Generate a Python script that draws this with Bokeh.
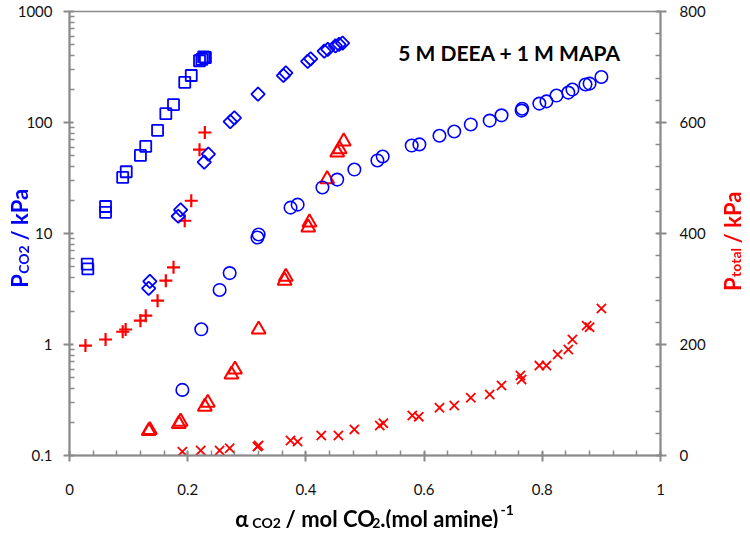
import math
from bokeh.plotting import figure
from bokeh.models import Range1d, LinearAxis, LinearScale, FixedTicker, Label
from bokeh.core.properties import value
from bokeh.embed import file_html
from bokeh.resources import INLINE

# ---------------- data ----------------
# Blue squares: P_CO2 (left axis)
alpha_sq = [0.030, 0.031, 0.061, 0.061, 0.090, 0.096, 0.120, 0.129, 0.149, 0.163,
            0.176, 0.195, 0.206, 0.220, 0.224, 0.227, 0.230]
pco2_sq = [5.3, 4.8, 17.5, 15.5, 32, 36, 50.5, 61, 85, 120,
           145, 230, 265, 360, 370, 390, 385]

# Blue diamonds: P_CO2 (left axis)
alpha_di = [0.134, 0.136, 0.184, 0.188, 0.228, 0.235, 0.272, 0.279, 0.319, 0.362,
            0.366, 0.403, 0.408, 0.431, 0.437, 0.450, 0.456, 0.462]
pco2_di = [3.2, 3.7, 14.3, 16.3, 44, 52, 102, 110, 180, 265,
           280, 355, 375, 440, 455, 490, 505, 520]

# Blue circles: P_CO2 (left axis)
alpha_ci = [0.191, 0.223, 0.254, 0.271, 0.318, 0.320, 0.374, 0.386, 0.428, 0.453,
            0.482, 0.521, 0.530, 0.579, 0.592, 0.626, 0.651, 0.679, 0.711, 0.731,
            0.765, 0.766, 0.795, 0.807, 0.824, 0.844, 0.851, 0.873, 0.880, 0.900]
pco2_ci = [0.39, 1.37, 3.1, 4.4, 9.2, 9.8, 17.1, 18.2, 26, 30.6,
           37.7, 45.5, 49.4, 62, 63.5, 76, 83, 96, 104, 116,
           128, 133, 148, 155, 175, 186, 198, 220, 224, 257]

# Red plus: P_total (right axis)
alpha_pl = [0.027, 0.061, 0.090, 0.095, 0.120, 0.129, 0.149, 0.163, 0.176, 0.195,
            0.206, 0.220, 0.229]
ptot_pl = [198, 209, 223, 227, 243, 252, 279, 315, 339, 423,
           459, 551, 582]

# Red triangles: P_total (right axis)
alpha_tr = [0.134, 0.136, 0.185, 0.188, 0.229, 0.234, 0.274, 0.280, 0.320, 0.364,
            0.366, 0.404, 0.406, 0.436, 0.453, 0.457, 0.464]
ptot_tr = [44, 46, 57, 61, 88, 95, 146, 155, 227, 315,
           322, 411, 420, 498, 546, 552, 566]

# Red x: P_total (right axis)
alpha_x = [0.191, 0.222, 0.254, 0.271, 0.318, 0.320, 0.374, 0.386, 0.426, 0.455,
           0.482, 0.525, 0.531, 0.580, 0.591, 0.626, 0.651, 0.679, 0.711, 0.731,
           0.763, 0.765, 0.795, 0.807, 0.826, 0.844, 0.851, 0.875, 0.880, 0.900]
ptot_x = [7, 9, 9, 13, 16, 18, 27, 25, 36, 36,
          47, 54, 58, 72, 70, 86, 90, 104, 110, 126,
          144, 137, 162, 162, 182, 191, 209, 234, 231, 265]

x_ticks = [0, 0.2, 0.4, 0.6, 0.8, 1]
x_tick_labels = ["0", "0.2", "0.4", "0.6", "0.8", "1"]
y_ticks = [0.1, 1, 10, 100, 1000]
y_tick_labels = ["0.1", "1", "10", "100", "1000"]
y2_ticks = [0, 200, 400, 600, 800]
y2_tick_labels = ["0", "200", "400", "600", "800"]

title_text = "5 M DEEA + 1 M MAPA"

# ---------------- layout ----------------
BLUE = "#0000FF"
RED = "#FF0000"
GRAY = "#8A8A8A"
FONT = "Lato"

W, H = 734, 520
FL, FR, FT, FB = 69, 660, 11, 455   # frame edges inside the figure

p = figure(width=W, height=H, y_axis_type="log",
           x_range=Range1d(0, 1), y_range=Range1d(0.1, 1000),
           output_backend="svg", toolbar_location=None,
           min_border_left=FL, min_border_right=W - FR,
           min_border_top=FT, min_border_bottom=H - FB)
p.extra_y_ranges = {"tot": Range1d(0, 800)}
p.extra_y_scales = {"tot": LinearScale()}
p.grid.visible = False
p.outline_line_color = GRAY
p.outline_line_width = 1.5
p.background_fill_color = "white"
p.border_fill_color = "white"

right = LinearAxis(y_range_name="tot")
p.add_layout(right, "right")

p.xaxis.ticker = FixedTicker(ticks=x_ticks,
                             minor_ticks=[round(i * 0.04, 2) for i in range(26)])
p.xaxis.major_label_overrides = dict(zip(x_ticks, x_tick_labels))
p.yaxis[0].ticker = FixedTicker(ticks=y_ticks,
                                minor_ticks=[m * d for d in [0.1, 1, 10, 100] for m in range(2, 10)])
p.yaxis[0].major_label_overrides = dict(zip(y_ticks, y_tick_labels))
right.ticker = FixedTicker(ticks=y2_ticks, minor_ticks=list(range(0, 801, 40)))
right.major_label_overrides = dict(zip(y2_ticks, y2_tick_labels))

for ax in [p.xaxis[0], p.yaxis[0], right]:
    ax.axis_line_color = GRAY
    ax.axis_line_width = 2
    ax.major_tick_line_color = GRAY
    ax.major_tick_line_width = 2
    ax.minor_tick_line_color = GRAY
    ax.minor_tick_line_width = 1.5
    ax.major_tick_in = 4
    ax.major_tick_out = 6
    ax.minor_tick_in = 5
    ax.minor_tick_out = 0
    ax.major_label_text_font = FONT
    ax.major_label_text_font_size = "15px"
    ax.major_label_text_color = "#111111"
    ax.major_label_standoff = 11
p.xaxis.major_label_standoff = 22
right.major_label_standoff = 13

# ---------------- markers ----------------
p.scatter(alpha_x, ptot_x, y_range_name="tot", marker="x", size=13,
          line_color=RED, line_width=1.8)
p.scatter(alpha_tr, ptot_tr, y_range_name="tot", marker="triangle", size=14,
          fill_color=None, line_color=RED, line_width=2)
p.scatter(alpha_pl, ptot_pl, y_range_name="tot", marker="cross", size=13,
          line_color=RED, line_width=2.2)
p.scatter(alpha_sq, pco2_sq, marker="square", size=11,
          fill_color=None, line_color=BLUE, line_width=1.8)
p.scatter(alpha_di, pco2_di, marker="square", angle=math.pi / 4, size=9.5,
          fill_color=None, line_color=BLUE, line_width=1.8)
p.scatter(alpha_ci, pco2_ci, marker="circle", size=12.5,
          fill_color=None, line_color=BLUE, line_width=1.6)

# in-plot title (inside the frame)
def px2x(px):
    return (px - 8 - FL) / (FR - FL)

def py2t(py):
    return (FB - (py - 8)) / (FB - FT) * 800

WID = {" ": 0.193, "α": 0.58, "C": 0.69, "O": 0.80, "P": 0.64, "M": 0.90, "D": 0.76,
       "E": 0.56, "A": 0.70, "a": 0.51, "e": 0.53, "i": 0.26, "k": 0.53, "l": 0.26,
       "m": 0.85, "n": 0.58, "o": 0.58, "t": 0.37, "/": 0.37, ".": 0.23, "(": 0.31,
       ")": 0.31, "-": 0.36, "+": 0.58}

def tw(s, size):
    return sum(WID.get(c, 0.58) for c in s) * size

p.add_layout(Label(x=px2x(513 - tw(title_text, 21) / 2), y=py2t(60), y_range_name="tot",
                   text=title_text, text_font=FONT, text_font_size="21px",
                   text_font_style="bold", text_color="#000000",
                   text_align="left", text_baseline="alphabetic"))

# ---------------- axis titles: transparent overlay figure ----------------
OW, OH = 742, 528   # overlay reaches the window edges so no title is cut
ov = figure(width=OW, height=OH, x_range=Range1d(0, OW), y_range=Range1d(OH, 0),
            output_backend="svg", toolbar_location=None, min_border=0,
            x_axis_location=None, y_axis_location=None, title_location=None,
            background_fill_color=None, border_fill_color=None,
            outline_line_color=None)
ov.grid.visible = False
ov.styles = {"position": "fixed", "left": "0px", "top": "0px"}

runs_x, runs_y, runs_t, runs_a, runs_s, runs_c = [], [], [], [], [], []

def put(px, py, t, size, color, angle):
    runs_x.append(px - 8)
    runs_y.append(py - 8)
    runs_t.append(t)
    runs_a.append(angle)
    runs_s.append(f"{size}px")
    runs_c.append(color)

def hrun(runs, cx, base_py, color):
    total = sum(tw(t, s) for t, s, sh in runs)
    x = cx - total / 2
    for t, s, sh in runs:
        lead = len(t) - len(t.lstrip(" "))
        put(x + tw(" " * lead, s), base_py + sh, t.strip(), s, color, 0.0)
        x += tw(t, s)

def vrun(runs, base_px, cy, color):
    total = sum(tw(t, s) for t, s, sh in runs)
    y = cy + total / 2
    for t, s, sh in runs:
        lead = len(t) - len(t.lstrip(" "))
        put(base_px + sh, y - tw(" " * lead, s), t.strip(), s, color, math.pi / 2)
        y -= tw(t, s)

hrun([("α ", 22, 0), ("CO2", 14, 4), (" / mol CO", 22, 0), ("2", 14, 4),
      (".(mol amine)", 22, 0), ("-1", 14, -9)], 382, 526, "#000000")
vrun([("P", 22, 0), ("CO2", 14, 4), (" / kPa", 22, 0)], 27, 247, BLUE)
vrun([("P", 22, 0), ("total", 14, 3), (" / kPa", 22, 0)], 740, 250, RED)

ov.text(x=runs_x, y=runs_y, text=runs_t, angle=runs_a, text_font_size=runs_s,
        text_color=runs_c, text_font=value(FONT), text_font_style="bold",
        text_align="left", text_baseline="alphabetic")

open("out.html", "w").write(file_html([p, ov], INLINE))
